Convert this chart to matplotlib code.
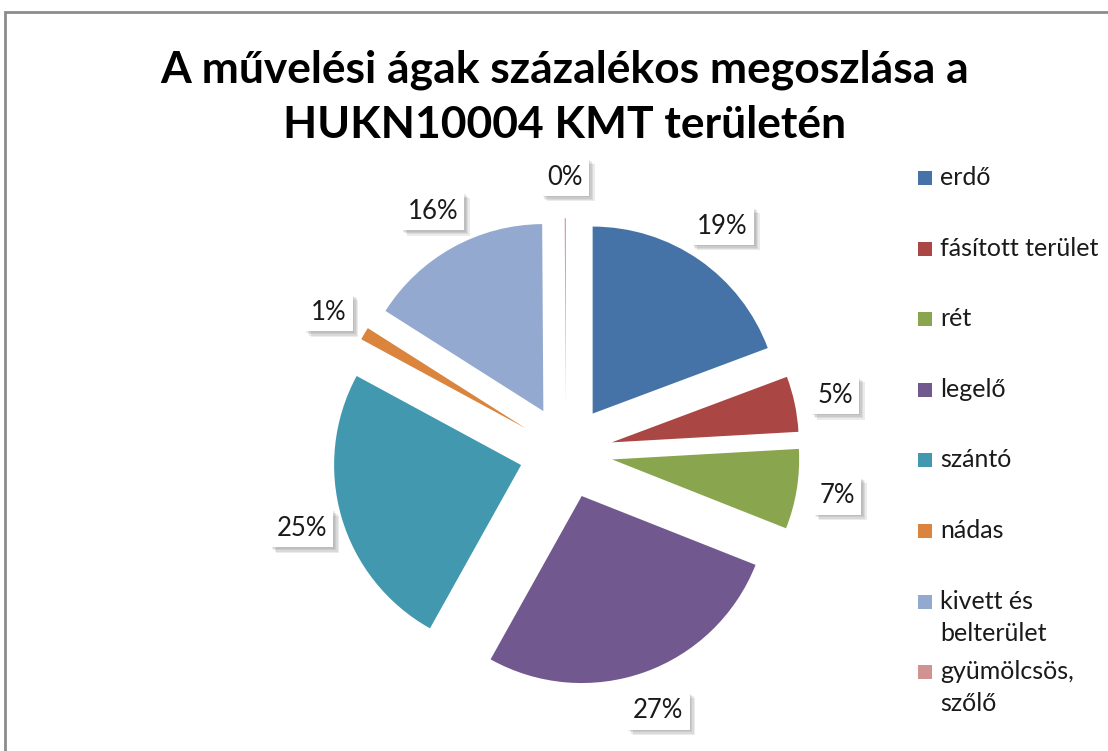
import matplotlib
matplotlib.use('Agg')
import matplotlib.pyplot as plt
import matplotlib.patheffects as pe
from matplotlib.patches import Rectangle

# ---- data ----
title_lines = ["A művelési ágak százalékos megoszlása a", "HUKN10004 KMT területén"]
categories = ["erdő", "fásított terület", "rét", "legelő", "szántó", "nádas",
              "kivett és belterület", "gyümölcsös, szőlő"]
legend_labels = ["erdő", "fásított terület", "rét", "legelő", "szántó", "nádas",
                 "kivett és\nbelterület", "gyümölcsös,\nszőlő"]
shares = [19.3, 4.8, 6.9, 27.1, 24.8, 1.1, 15.9, 0.1]
colors = ["#4572A7", "#AA4643", "#89A54E", "#71588F", "#4198AF", "#DB843D",
          "#93A9CF", "#D19392"]

W, H = 1108, 751
FONT = 'Lato'
TXT = '#1a1a1a'

fig = plt.figure(figsize=(W / 100, H / 100), dpi=100)
ax = fig.add_axes([0, 0, 1, 1])

cx, cy = 566, H - 452
R = 187
explode = [0.25 * R] * len(shares)

wedges, texts, autotexts = ax.pie(
    shares, explode=explode, colors=colors, startangle=90, counterclock=False,
    radius=R, center=(cx, cy), autopct='%1.0f%%', pctdistance=1.22, frame=True,
    textprops=dict(fontsize=18.5, family=FONT, color=TXT))

soft_shadow = [pe.SimplePatchShadow(offset=(o, -o), shadow_rgbFace='#666666', alpha=0.13)
               for o in (1, 2, 3, 4)] + [pe.Normal()]
for t in autotexts:
    t.set_ha('center')
    t.set_va('center')
    t.set_bbox(dict(boxstyle='square,pad=0.24', fc='white', ec='none'))
    t.get_bbox_patch().set_path_effects(soft_shadow)

ax.set_xlim(0, W)
ax.set_ylim(0, H)
ax.set_aspect('auto')
ax.axis('off')

# frame
ax.add_patch(Rectangle((5, -20), W + 20, H - 12 + 20, fill=False, ec='#8c8c8c', lw=2))

# title
t1 = ax.text(565, H - 70, title_lines[0], ha='center', va='center', fontsize=32,
             fontweight='bold', family=FONT, color='black')
fig.canvas.draw()
w = t1.get_window_extent().width
fs = 32 * 810 / w
t1.set_fontsize(fs)
ax.text(565, H - 125, title_lines[1], ha='center', va='center', fontsize=fs,
        fontweight='bold', family=FONT, color='black')

# legend (manual)
y0, dy, line_h = 178, 70.6, 32
for i, (lab, col) in enumerate(zip(legend_labels, colors)):
    yc = H - (y0 + dy * i)
    ax.add_patch(Rectangle((918, yc - 7), 14, 14, fc=col, ec='none'))
    for k, line in enumerate(lab.split('\n')):
        ax.text(940, yc - 7 - k * line_h, line, ha='left', va='baseline',
                fontsize=18, family=FONT, color=TXT)

fig.savefig('out.png', dpi=100)
